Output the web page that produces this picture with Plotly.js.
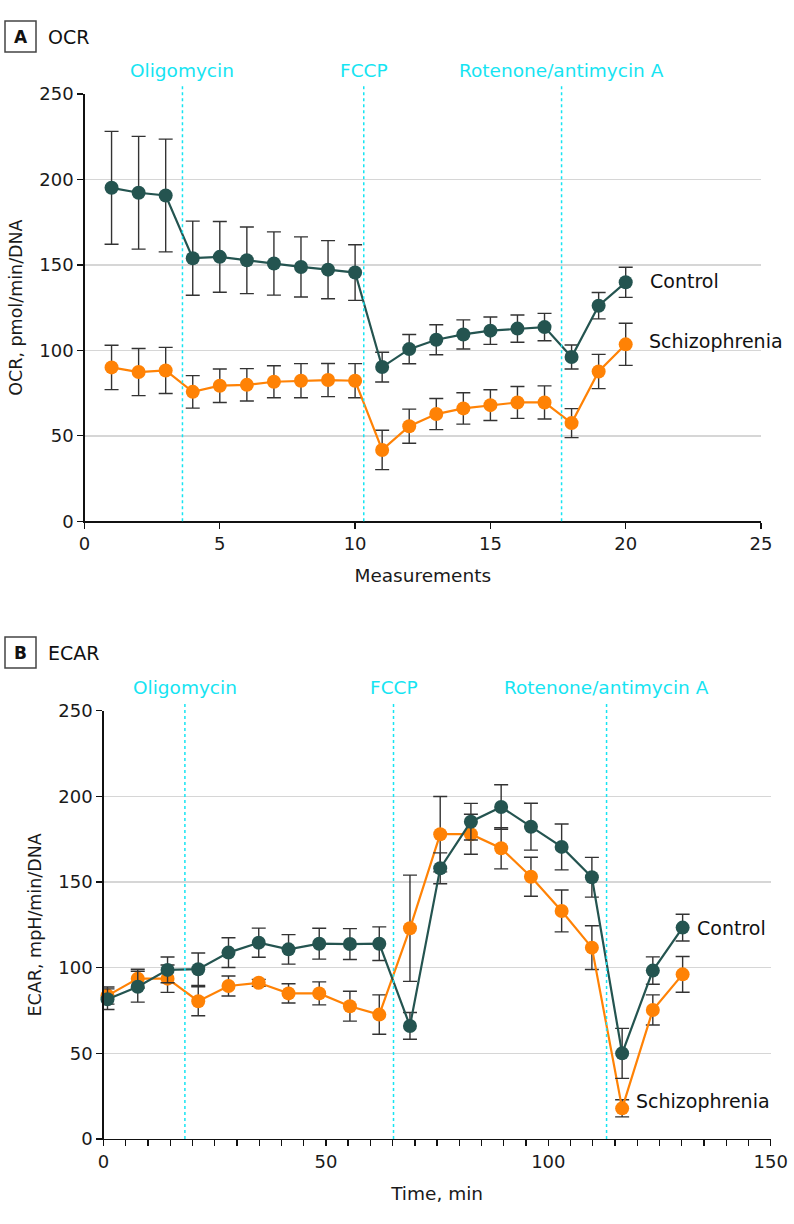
<!DOCTYPE html>
<html>
<head>
<meta charset="utf-8">
<script src="https://cdn.plot.ly/plotly-3.0.1.min.js"></script>
<style>html,body{margin:0;padding:0;background:#fff;}#chart{width:794px;height:1224px;}</style>
</head>
<body>
<div id="chart"></div>
<script>
// ---- Data ----
const measurements = [1,2,3,4,5,6,7,8,9,10,11,12,13,14,15,16,17,18,19,20];
const ocrControl = [195.1,192.2,190.6,153.9,154.7,152.7,150.8,148.8,147.2,145.5,90.2,100.7,106.2,109.3,111.5,112.7,113.6,96.1,126.1,139.8];
const ocrControlErr = [33,33,33,21.7,20.7,19.5,18.5,17.6,17,16.3,8.7,8.6,8.8,8.5,8,8,8,7,7.7,8.8];
const ocrSchiz = [90,87.3,88.2,75.7,79.3,79.8,81.6,82.2,82.6,82.2,41.7,55.6,62.7,66,67.9,69.5,69.5,57.4,87.6,103.5];
const ocrSchizErr = [13,13.8,13.5,9.5,9.8,9.5,9.4,10,9.7,10,11.5,10,9.1,9.2,9,9.3,9.7,8.5,10,12.3];

const timeMin = [0.9,7.7,14.4,21.3,28.1,34.9,41.6,48.5,55.4,62.0,68.9,75.7,82.6,89.4,96.1,103.0,109.8,116.6,123.5,130.2];
const ecarControl = [81.6,88.9,98.7,99.1,108.8,114.6,110.7,114,113.8,114,66,158,185.2,193.8,182.3,170.5,152.8,50,98.3,123.4];
const ecarControlErr = [6,9,7.5,9.5,8.7,8.5,8.6,9,9,9.8,7.8,9,10.7,13,13.7,13.4,11.6,14.6,8,7.8];
const ecarSchiz = [83.7,93.6,93.6,80.4,89.3,91.2,85,85,77.5,72.6,123,177.9,177.9,169.7,153.1,133.1,111.7,17.9,75.3,96.1];
const ecarSchizErr = [5,5.5,8,8.5,5.8,2,5.6,6.7,8.7,11.5,31,22,11.7,12,11.4,12.2,12.8,5,8.8,10.4];

const injectionNames = ["Oligomycin","FCCP","Rotenone/antimycin A"];
const injectionsA = [3.62,10.32,17.63];
const injectionsB = [18.3,65.2,113.1];
const seriesNames = ["Control","Schizophrenia"];

// ---- Style ----
const W = 794, H = 1224;
const px = x => x / W;
const py = y => 1 - y / H;
const cCtrl = '#245450';
const cSchiz = '#ff8205';
const cInj = '#16e4f2';
const font = 'DejaVu Sans, Verdana, sans-serif';
const errStyle = {thickness:1.4, width:7, color:'#333333'};

function trace(x, y, err, color, name, xa, ya){
  return {
    x:x, y:y, type:'scatter', mode:'lines+markers', name:name,
    xaxis:xa, yaxis:ya, showlegend:false,
    line:{color:color, width:2.2},
    marker:{color:color, size:14},
    error_y:Object.assign({type:'data', array:err, visible:true}, errStyle),
    cliponaxis:false
  };
}

const data = [
  trace(measurements, ocrControl, ocrControlErr, cCtrl, seriesNames[0], 'x', 'y'),
  trace(measurements, ocrSchiz, ocrSchizErr, cSchiz, seriesNames[1], 'x', 'y'),
  trace(timeMin, ecarSchiz, ecarSchizErr, cSchiz, seriesNames[1], 'x2', 'y2'),
  trace(timeMin, ecarControl, ecarControlErr, cCtrl, seriesNames[0], 'x2', 'y2')
];

const axA = {t:94, b:521.2, l:84.5, r:761};
const axB = {t:710.7, b:1139, l:103.5, r:770.7};

function yAxis(dom, title){
  return {
    domain:[py(dom.b), py(dom.t)], range:[0,250], dtick:50, tick0:0,
    showgrid:true, gridcolor:'#d6d6d6', gridwidth:1.6, zeroline:false,
    showline:true, linecolor:'#111', linewidth:1.3,
    ticks:'outside', ticklen:6, tickcolor:'#111', tickwidth:1.3,
    tickfont:{family:font, size:18, color:'#1a1a1a'},
    title:{text:title, font:{family:font, size:17.5, color:'#1a1a1a'}, standoff:12},
    automargin:false, fixedrange:true
  };
}
function xAxis(dom, range, dtick, title, anchor, minor){
  const a = {
    domain:[px(dom.l), px(dom.r)], range:range, dtick:dtick, tick0:0, anchor:anchor,
    showgrid:false, zeroline:false,
    showline:true, linecolor:'#111', linewidth:1.3,
    ticks:'outside', ticklen:6, tickcolor:'#111', tickwidth:1.3,
    tickfont:{family:font, size:18, color:'#1a1a1a'},
    title:{text:title, font:{family:font, size:18.5, color:'#1a1a1a'}, standoff:16},
    automargin:false, fixedrange:true
  };
  if (minor) a.minor = {dtick:minor, ticks:'outside', ticklen:6, tickcolor:'#111', tickwidth:1.3, showgrid:false};
  return a;
}

const shapes = [];
const annotations = [];

function injections(xs, xref, dom, labelY){
  xs.forEach((xv, i) => {
    shapes.push({type:'line', xref:xref, yref:'paper', x0:xv, x1:xv,
      y0:py(dom.b), y1:py(dom.t - 9), line:{color:cInj, width:1.5, dash:'dot'}});
    annotations.push({xref:xref, yref:'paper', x:xv, y:py(labelY), text:injectionNames[i],
      showarrow:false, xanchor:'center', yanchor:'middle',
      font:{family:font, size:18.5, color:cInj}});
  });
}
injections(injectionsA, 'x', axA, 70);
injections(injectionsB, 'x2', axB, 687);

function panelLabel(letter, title, yTop){
  shapes.push({type:'rect', xref:'paper', yref:'paper', x0:px(5), x1:px(36),
    y0:py(yTop + 31), y1:py(yTop), line:{color:'#444', width:1.5}, fillcolor:'rgba(0,0,0,0)'});
  annotations.push({xref:'paper', yref:'paper', x:px(20.5), y:py(yTop + 15.5), text:'<b>' + letter + '</b>',
    showarrow:false, xanchor:'center', yanchor:'middle', font:{family:font, size:17, color:'#111'}});
  annotations.push({xref:'paper', yref:'paper', x:px(46), y:py(yTop + 15.5), text:title,
    showarrow:false, xanchor:'left', yanchor:'middle', font:{family:font, size:19, color:'#111'}});
}
panelLabel('A', 'OCR', 21);
panelLabel('B', 'ECAR', 637);

function seriesLabel(text, xref, yref, xv, yv, xshift, yshift){
  annotations.push({xref:xref, yref:yref, x:xv, y:yv, text:text, showarrow:false,
    xanchor:'left', yanchor:'middle', xshift:xshift, yshift:yshift,
    font:{family:font, size:19, color:'#111'}});
}
seriesLabel(seriesNames[0], 'x', 'y', measurements[19], ocrControl[19], 22, 1);
seriesLabel(seriesNames[1], 'x', 'y', measurements[19], ocrSchiz[19], 21, 3);
seriesLabel(seriesNames[0], 'x2', 'y2', timeMin[19], ecarControl[19], 12, 0);
seriesLabel(seriesNames[1], 'x2', 'y2', timeMin[17], ecarSchiz[17], 12, 7);

const layout = {
  width:W, height:H,
  margin:{l:0, r:0, t:0, b:0},
  paper_bgcolor:'#fff', plot_bgcolor:'#fff',
  showlegend:false,
  xaxis:xAxis(axA, [0,25], 5, 'Measurements', 'y', null),
  yaxis:Object.assign(yAxis(axA, 'OCR, pmol/min/DNA'), {anchor:'x'}),
  xaxis2:xAxis(axB, [0,150], 50, 'Time, min', 'y2', 5),
  yaxis2:Object.assign(yAxis(axB, 'ECAR, mpH/min/DNA'), {anchor:'x2'}),
  shapes:shapes,
  annotations:annotations
};

Plotly.newPlot('chart', data, layout, {displayModeBar:false, staticPlot:true});
</script>
</body>
</html>
